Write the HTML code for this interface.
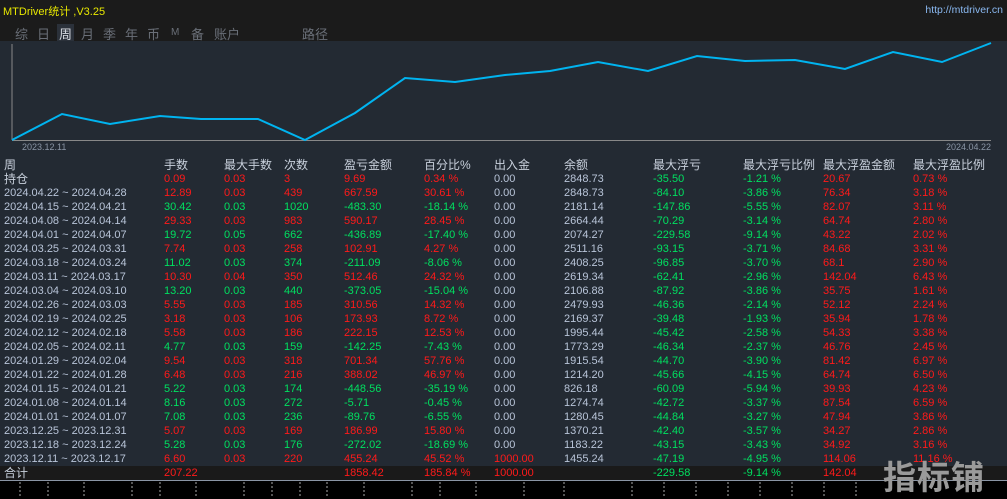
<!DOCTYPE html>
<html><head><meta charset="utf-8"><style>
body{margin:0;width:1007px;height:498px;background:#000;overflow:hidden;font-family:"Liberation Sans","Noto Sans CJK SC",sans-serif;font-size:11px;position:relative}
#top{position:absolute;left:0;top:0;width:1007px;height:41px;background:#1b1b1b}
#title{position:absolute;left:3px;top:3px;color:#e8e800;font-size:11px}
#url{position:absolute;right:4px;top:4px;color:#8ab8f0;font-size:10.5px}
.tab{position:absolute;top:24px;color:#6a6f78;font-size:13px}
#panel{position:absolute;left:0;top:41px;width:1007px;height:439px;background:#232a33}
.r{position:absolute;left:0;width:1007px;height:14px;line-height:14px;white-space:nowrap}
.r span{position:absolute}
.h{color:#c8d0dc;font-size:12px}
.g{color:#00e060}.d{color:#ff1a1a}.b{color:#b8c4d8}
#tot{background:#1a1a1a;height:14px}
</style></head><body>
<div id="top"><div id="title">MTDriver统计 ,V3.25</div><div id="url">http://mtdriver.cn</div>
<span class="tab" style="left:15px">综</span><span class="tab" style="left:37px">日</span><span class="tab" style="left:57px;color:#d8dce2;background:#2b313a;padding:0 2px">周</span><span class="tab" style="left:81px">月</span><span class="tab" style="left:103px">季</span><span class="tab" style="left:125px">年</span><span class="tab" style="left:147px">币</span><span class="tab" style="left:171px;font-size:10px;top:27px">M</span><span class="tab" style="left:191px">备</span><span class="tab" style="left:214px">账户</span><span class="tab" style="left:302px">路径</span>
</div>
<div id="panel"></div>
<svg style="position:absolute;left:0;top:0" width="1007" height="498">
<line x1="12" y1="44" x2="12" y2="140" stroke="#888" stroke-width="1"/>
<line x1="12" y1="140.5" x2="991" y2="140.5" stroke="#888" stroke-width="1"/>
<polyline fill="none" stroke="#00b4f0" stroke-width="2" points="12,140 62,114 110,124 160,116 201,119 258,119 305,140 355,113 405,78 455,82 505,75 550,71 598,62 648,71 697,56 745,61 795,60 845,69 893,52 942,62 991,43"/>
<text x="22" y="150" fill="#8a95a5" font-size="9" font-family="Liberation Sans">2023.12.11</text>
<text x="946" y="150" fill="#8a95a5" font-size="9" font-family="Liberation Sans">2024.04.22</text>
<line x1="0" y1="480.5" x2="1007" y2="480.5" stroke="#8a95a5"/>
<g stroke="#aaa" stroke-dasharray="2,2"><line x1="20" y1="482" x2="20" y2="498"/><line x1="48" y1="482" x2="48" y2="498"/><line x1="84" y1="482" x2="84" y2="498"/><line x1="132" y1="482" x2="132" y2="498"/><line x1="160" y1="482" x2="160" y2="498"/><line x1="196" y1="482" x2="196" y2="498"/><line x1="244" y1="482" x2="244" y2="498"/><line x1="272" y1="482" x2="272" y2="498"/><line x1="300" y1="482" x2="300" y2="498"/><line x1="327" y1="482" x2="327" y2="498"/><line x1="364" y1="482" x2="364" y2="498"/><line x1="412" y1="482" x2="412" y2="498"/><line x1="440" y1="482" x2="440" y2="498"/><line x1="476" y1="482" x2="476" y2="498"/><line x1="524" y1="482" x2="524" y2="498"/><line x1="564" y1="482" x2="564" y2="498"/><line x1="632" y1="482" x2="632" y2="498"/><line x1="664" y1="482" x2="664" y2="498"/><line x1="696" y1="482" x2="696" y2="498"/><line x1="728" y1="482" x2="728" y2="498"/><line x1="760" y1="482" x2="760" y2="498"/><line x1="792" y1="482" x2="792" y2="498"/><line x1="824" y1="482" x2="824" y2="498"/><line x1="856" y1="482" x2="856" y2="498"/></g>
</svg>
<div id="tbl"></div>
<div style="position:absolute;left:883px;top:455px;color:#9a9a9a;font-size:33px;font-weight:bold;letter-spacing:1px;font-family:'Noto Sans CJK SC',sans-serif;line-height:40px">指标铺</div>
<script>
var X=[4,164,224,284,344,424,494,564,653,743,823,913];
var rows=[
["持仓","d","0.09","0.03","3","9.69","0.34 %","0.00","2848.73","-35.50","-1.21 %","20.67","0.73 %"],
["2024.04.22 ~ 2024.04.28","d","12.89","0.03","439","667.59","30.61 %","0.00","2848.73","-84.10","-3.86 %","76.34","3.18 %"],
["2024.04.15 ~ 2024.04.21","g","30.42","0.03","1020","-483.30","-18.14 %","0.00","2181.14","-147.86","-5.55 %","82.07","3.11 %"],
["2024.04.08 ~ 2024.04.14","d","29.33","0.03","983","590.17","28.45 %","0.00","2664.44","-70.29","-3.14 %","64.74","2.80 %"],
["2024.04.01 ~ 2024.04.07","g","19.72","0.05","662","-436.89","-17.40 %","0.00","2074.27","-229.58","-9.14 %","43.22","2.02 %"],
["2024.03.25 ~ 2024.03.31","d","7.74","0.03","258","102.91","4.27 %","0.00","2511.16","-93.15","-3.71 %","84.68","3.31 %"],
["2024.03.18 ~ 2024.03.24","g","11.02","0.03","374","-211.09","-8.06 %","0.00","2408.25","-96.85","-3.70 %","68.1","2.90 %"],
["2024.03.11 ~ 2024.03.17","d","10.30","0.04","350","512.46","24.32 %","0.00","2619.34","-62.41","-2.96 %","142.04","6.43 %"],
["2024.03.04 ~ 2024.03.10","g","13.20","0.03","440","-373.05","-15.04 %","0.00","2106.88","-87.92","-3.86 %","35.75","1.61 %"],
["2024.02.26 ~ 2024.03.03","d","5.55","0.03","185","310.56","14.32 %","0.00","2479.93","-46.36","-2.14 %","52.12","2.24 %"],
["2024.02.19 ~ 2024.02.25","d","3.18","0.03","106","173.93","8.72 %","0.00","2169.37","-39.48","-1.93 %","35.94","1.78 %"],
["2024.02.12 ~ 2024.02.18","d","5.58","0.03","186","222.15","12.53 %","0.00","1995.44","-45.42","-2.58 %","54.33","3.38 %"],
["2024.02.05 ~ 2024.02.11","g","4.77","0.03","159","-142.25","-7.43 %","0.00","1773.29","-46.34","-2.37 %","46.76","2.45 %"],
["2024.01.29 ~ 2024.02.04","d","9.54","0.03","318","701.34","57.76 %","0.00","1915.54","-44.70","-3.90 %","81.42","6.97 %"],
["2024.01.22 ~ 2024.01.28","d","6.48","0.03","216","388.02","46.97 %","0.00","1214.20","-45.66","-4.15 %","64.74","6.50 %"],
["2024.01.15 ~ 2024.01.21","g","5.22","0.03","174","-448.56","-35.19 %","0.00","826.18","-60.09","-5.94 %","39.93","4.23 %"],
["2024.01.08 ~ 2024.01.14","g","8.16","0.03","272","-5.71","-0.45 %","0.00","1274.74","-42.72","-3.37 %","87.54","6.59 %"],
["2024.01.01 ~ 2024.01.07","g","7.08","0.03","236","-89.76","-6.55 %","0.00","1280.45","-44.84","-3.27 %","47.94","3.86 %"],
["2023.12.25 ~ 2023.12.31","d","5.07","0.03","169","186.99","15.80 %","0.00","1370.21","-42.40","-3.57 %","34.27","2.86 %"],
["2023.12.18 ~ 2023.12.24","g","5.28","0.03","176","-272.02","-18.69 %","0.00","1183.22","-43.15","-3.43 %","34.92","3.16 %"],
["2023.12.11 ~ 2023.12.17","d","6.60","0.03","220","455.24","45.52 %","1000.00","1455.24","-47.19","-4.95 %","114.06","11.16 %"]];
var hd=["周","手数","最大手数","次数","盈亏金额","百分比%","出入金","余额","最大浮亏","最大浮亏比例","最大浮盈金额","最大浮盈比例"];
var h='<div class="r h" style="top:158px">';hd.forEach(function(t,i){h+='<span style="left:'+X[i]+'px">'+t+'</span>'});h+='</div>';
rows.forEach(function(r,k){var y=172+k*14;var c=r[1];
h+='<div class="r" style="top:'+y+'px">';
h+='<span class="'+(k==0?'h':'b')+'" style="left:4px">'+r[0]+'</span>';
for(var i=2;i<13;i++){var cl=c;if(i==8)cl='b';if(i==7)cl=(r[7]=="0.00"?'b':'d');if(i==9||i==10)cl='g';if(i==11||i==12)cl='d';
h+='<span class="'+cl+'" style="left:'+X[i-1]+'px">'+r[i]+'</span>';}
h+='</div>';});
h+='<div class="r" id="tot" style="top:466px"><span class="h" style="left:4px">合计</span><span class="d" style="left:164px">207.22</span><span class="d" style="left:344px">1858.42</span><span class="d" style="left:424px">185.84 %</span><span class="d" style="left:494px">1000.00</span><span class="g" style="left:653px">-229.58</span><span class="g" style="left:743px">-9.14 %</span><span class="d" style="left:823px">142.04</span></div>';
document.getElementById('tbl').innerHTML=h;
</script>
</body></html>
